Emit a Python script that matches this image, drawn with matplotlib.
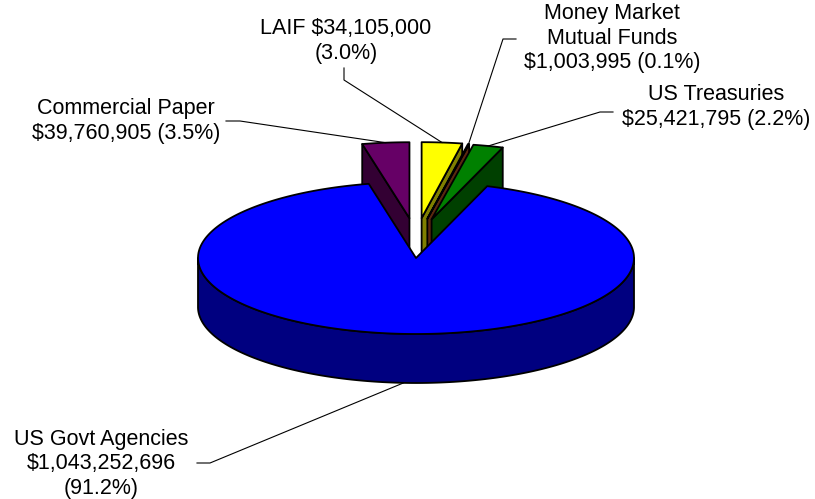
import numpy as np
import matplotlib
matplotlib.use("Agg")
import matplotlib.pyplot as plt
from matplotlib.patches import Polygon

# portfolio holdings, clockwise from 12 o'clock
names = ["LAIF", "Money Market\nMutual Funds", "US Treasuries",
         "US Govt Agencies", "Commercial Paper"]
amounts = [34105000, 1003995, 25421795, 1043252696, 39760905]
name_sep = [" ", "\n", "\n", "\n", "\n"]
pct_sep = ["\n", " ", " ", "\n", " "]

top_colors = ["#FFFF00", "#A0461E", "#008000", "#0000FF", "#660066"]
side_colors = ["#808000", "#5A2810", "#004000", "#000080", "#330033"]
exploded = [True, True, True, False, True]

# label block centres and leader elbows (pixel layout)
label_pos = [(346, 41), (612, 38), (716, 107), (101, 464), (126, 121)]
elbows = [[(344, 68), (344, 80)],
          [(516, 39), (503, 39)],
          [(613, 112), (600, 112)],
          [(197, 463), (210, 463)],
          [(226, 121), (240, 121)]]

# pie geometry in pixels
CX, CY = 416, 258
RX, RY = 218, 76
H = 49
EX, EY = 60, 40

amounts = np.array(amounts, dtype=float)
frac = amounts / amounts.sum()
ends = np.cumsum(frac) * 360
starts = ends - frac * 360


def rim(t, off, dz=0.0):
    t = np.radians(t)
    return (CX + off[0] + RX * np.sin(t), CY + off[1] - RY * np.cos(t) + dz)


def arc(a, b, off, dz=0.0):
    n = max(int(abs(b - a) * 2), 3)
    return [rim(t, off, dz) for t in np.linspace(a, b, n)]


fig = plt.figure(figsize=(8.15, 4.99), dpi=100)
ax = fig.add_axes([0, 0, 1, 1])
ax.set_xlim(0, 815)
ax.set_ylim(499, 0)
ax.axis("off")

kw = dict(edgecolor="black", linewidth=1.3, joinstyle="round")

mids = (starts + ends) / 2
order = sorted(range(len(amounts)), key=lambda i: -np.cos(np.radians(mids[i])))
offsets = {}
for i in order:
    a, b, m = starts[i], ends[i], mids[i]
    if exploded[i]:
        off = (EX * np.sin(np.radians(m)), -EY * np.cos(np.radians(m)))
    else:
        off = (0.0, 0.0)
    offsets[i] = off
    apex = (CX + off[0], CY + off[1])
    apex_b = (apex[0], apex[1] + H)
    # radial side faces that look toward the viewer
    for t, ok in ((a, np.sin(np.radians(a)) < -1e-6), (b, np.sin(np.radians(b)) > 1e-6)):
        if ok:
            pts = [apex, rim(t, off), rim(t, off, H), apex_b]
            ax.add_patch(Polygon(pts, closed=True, facecolor=side_colors[i], **kw))
    # curved outer wall on the front half
    lo, hi = max(a, 90), min(b, 270)
    if hi > lo:
        pts = arc(lo, hi, off) + arc(hi, lo, off, H)
        ax.add_patch(Polygon(pts, closed=True, facecolor=side_colors[i], **kw))
    # top face
    pts = [apex] + arc(a, b, off)
    ax.add_patch(Polygon(pts, closed=True, facecolor=top_colors[i], **kw))

# labels and leader lines
for i in range(len(amounts)):
    text = (names[i] + name_sep[i] + "${:,.0f}".format(amounts[i])
            + pct_sep[i] + "({:.1f}%)".format(frac[i] * 100))
    ax.text(label_pos[i][0], label_pos[i][1], text, ha="center", va="center",
            multialignment="center", fontsize=15.5, family="Liberation Sans",
            linespacing=1.22, color="black")
    m = mids[i]
    if np.cos(np.radians(m)) < 0:
        end = rim(m, offsets[i], H)
    else:
        end = rim(m, offsets[i])
    xs = [p[0] for p in elbows[i]] + [end[0]]
    ys = [p[1] for p in elbows[i]] + [end[1]]
    ax.plot(xs, ys, color="black", linewidth=0.8)

fig.savefig("out.png", dpi=100)
